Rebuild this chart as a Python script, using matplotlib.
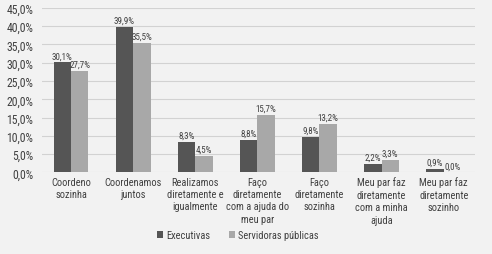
import matplotlib
matplotlib.use("Agg")
import matplotlib.pyplot as plt
import numpy as np

categories = ["Coordeno\nsozinha", "Coordenamos\njuntos", "Realizamos\ndiretamente e\nigualmente",
              "Faço\ndiretamente\ncom a ajuda do\nmeu par", "Faço\ndiretamente\nsozinha",
              "Meu par faz\ndiretamente\ncom a minha\najuda", "Meu par faz\ndiretamente\nsozinho"]
executivas = [30.1, 39.9, 8.3, 8.8, 9.8, 2.2, 0.9]
servidoras = [27.7, 35.5, 4.5, 15.7, 13.2, 3.3, 0.0]
series_names = ["Executivas", "Servidoras públicas"]
yticks = [0, 5, 10, 15, 20, 25, 30, 35, 40, 45]

plt.rcParams['font.family'] = ["Roboto Condensed", "DejaVu Sans"]

bg = "#f2f2f2"
tc = "#404040"
fig = plt.figure(figsize=(4.92, 2.55), dpi=100, facecolor=bg)
ax = fig.add_axes([0.085, 0.32, 0.88, 0.645], facecolor=bg)

x = np.arange(len(categories))
w = 0.28
c1, c2 = "#555555", "#a8a8a8"
b1 = ax.bar(x - w/2, executivas, w, color=c1, label=series_names[0], zorder=3)
b2 = ax.bar(x + w/2, servidoras, w, color=c2, label=series_names[1], zorder=3)

def fmt(v):
    return f"{v:.1f}".replace(".", ",") + "%"

for bars, vals in ((b1, executivas), (b2, servidoras)):
    for b, v in zip(bars, vals):
        ax.text(b.get_x() + b.get_width()/2, v + 0.6, fmt(v), ha="center", va="bottom",
                fontsize=6.5, color=tc)

ax.set_ylim(0, 45)
ax.set_xlim(-0.47, 6.5)
ax.set_yticks(yticks)
ax.set_yticklabels([fmt(v) for v in yticks], fontsize=8.5, color=tc)
ax.set_xticks(x)
ax.set_xticklabels(categories, fontsize=7.5, color=tc, linespacing=1.3)
ax.tick_params(axis="x", length=0, pad=3)
ax.tick_params(axis="y", length=0, pad=6)
ax.grid(axis="y", color="#d2d2d2", linewidth=0.8, zorder=0)
for s in ax.spines.values():
    s.set_visible(False)

leg = fig.legend(handles=[b1, b2], labels=series_names, loc="center", bbox_to_anchor=(0.483, 0.073),
                 ncol=2, frameon=False, fontsize=7.5, handlelength=0.6, handleheight=0.6,
                 handletextpad=0.25, columnspacing=1.8, labelcolor=tc)

fig.savefig("out.png", dpi=100, facecolor=bg)
